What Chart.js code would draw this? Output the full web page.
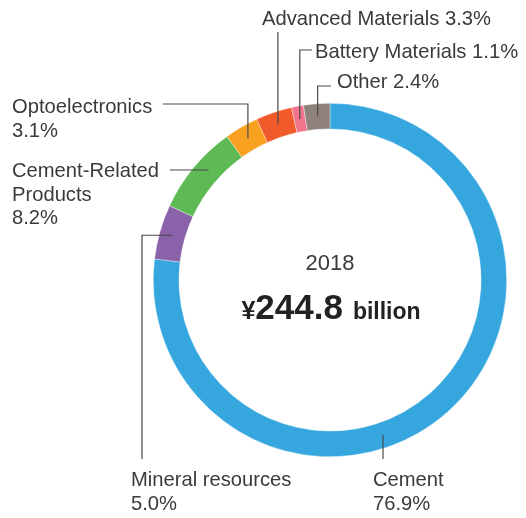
<!DOCTYPE html>
<html>
<head>
<meta charset="utf-8">
<script src="https://cdn.jsdelivr.net/npm/chart.js@4.4.1/dist/chart.umd.min.js"></script>
<style>
  html, body { margin: 0; padding: 0; background: #ffffff; }
  #wrap { width: 526px; height: 518px; position: relative; }
</style>
</head>
<body>
<div id="wrap"><canvas id="c" width="526" height="518"></canvas></div>
<script>
// ---- data ----
const categories = ['Cement', 'Mineral resources', 'Cement-Related Products', 'Optoelectronics', 'Advanced Materials', 'Battery Materials', 'Other'];
const shares = [76.9, 5.0, 8.2, 3.1, 3.3, 1.1, 2.4];
const centerYear = '2018';
const centerTotal = '244.8';
const centerUnit = 'billion';

// ---- styles ----
const colors = ['#35A6DE', '#8A62AA', '#5EBA55', '#F8A01F', '#F15A2B', '#F0758A', '#8F817C'];
const textColor = '#3a3a3a';
const lineColor = '#4a4a4a';
const labelFont = '20.2px "Liberation Sans", Arial, sans-serif';

// label layout: text lines, text position, leader route
const labelLayout = [
  { lines: [categories[0], shares[0].toFixed(1) + '%'], x: 373, y: 486, anchor: { ringX: 383 }, route: a => [[a.x, a.y], [a.x, 459]] },
  { lines: [categories[1], shares[1].toFixed(1) + '%'], x: 131, y: 486, anchor: 'mid', route: a => [[a.x, a.y], [142, a.y], [142, 459]] },
  { lines: ['Cement-Related', 'Products', shares[2].toFixed(1) + '%'], x: 12, y: 177, anchor: { ringY: 170, side: -1 }, route: a => [[170, a.y], [a.x, a.y]] },
  { lines: [categories[3], shares[3].toFixed(1) + '%'], x: 12, y: 113, anchor: 'mid', route: a => [[163, 104], [a.x, 104], [a.x, a.y]] },
  { lines: [categories[4] + ' ' + shares[4].toFixed(1) + '%'], x: 262, y: 25, anchor: 'mid', route: a => [[a.x, 32], [a.x, a.y]] },
  { lines: [categories[5] + ' ' + shares[5].toFixed(1) + '%'], x: 315, y: 58, anchor: 'mid', route: a => [[312, 50], [a.x, 50], [a.x, a.y]] },
  { lines: [categories[6] + ' ' + shares[6].toFixed(1) + '%'], x: 337, y: 88, anchor: 'mid', route: a => [[331, 86], [a.x, 86], [a.x, a.y]] }
];

const labelPlugin = {
  id: 'labels',
  afterDraw(chart) {
    const ctx = chart.ctx;
    const meta = chart.getDatasetMeta(0);
    const arcs = meta.data;
    const cx = arcs[0].x, cy = arcs[0].y;
    const rMid = (arcs[0].innerRadius + arcs[0].outerRadius) / 2;
    ctx.save();
    // leaders
    ctx.strokeStyle = lineColor;
    ctx.lineWidth = 1.2;
    labelLayout.forEach((L, i) => {
      let a;
      if (L.anchor === 'mid') {
        const arc = arcs[i];
        const ang = (arc.startAngle + arc.endAngle) / 2;
        a = { x: cx + rMid * Math.cos(ang), y: cy + rMid * Math.sin(ang) };
      } else if (L.anchor.ringX !== undefined) {
        const dx = L.anchor.ringX - cx;
        a = { x: L.anchor.ringX, y: cy + Math.sqrt(rMid * rMid - dx * dx) };
      } else {
        const dy = L.anchor.ringY - cy;
        a = { x: cx + L.anchor.side * Math.sqrt(rMid * rMid - dy * dy), y: L.anchor.ringY };
      }
      const pts = L.route(a);
      ctx.beginPath();
      pts.forEach((p, k) => k ? ctx.lineTo(p[0], p[1]) : ctx.moveTo(p[0], p[1]));
      ctx.stroke();
    });
    // texts
    ctx.fillStyle = textColor;
    ctx.font = labelFont;
    ctx.textAlign = 'left';
    ctx.textBaseline = 'alphabetic';
    labelLayout.forEach(L => {
      L.lines.forEach((t, k) => ctx.fillText(t, L.x, L.y + k * 23.5));
    });
    // center
    ctx.textAlign = 'center';
    ctx.font = '22px "Liberation Sans", Arial, sans-serif';
    ctx.fillText(centerYear, cx, 270);
    const yen = '\u00A5';
    ctx.fillStyle = '#222222';
    ctx.font = 'bold 35px "Liberation Sans", Arial, sans-serif';
    const wNum = ctx.measureText(centerTotal).width;
    ctx.font = 'bold 25px "Liberation Sans", Arial, sans-serif';
    const wYen = ctx.measureText(yen).width;
    ctx.font = 'bold 23px "Liberation Sans", Arial, sans-serif';
    const wUnit = ctx.measureText(centerUnit).width;
    const gap = 10;
    const total = wYen + wNum + gap + wUnit;
    let x0 = cx - total / 2 + 1;
    ctx.textAlign = 'left';
    ctx.font = 'bold 25px "Liberation Sans", Arial, sans-serif';
    ctx.fillText(yen, x0, 319);
    ctx.font = 'bold 35px "Liberation Sans", Arial, sans-serif';
    ctx.fillText(centerTotal, x0 + wYen, 319);
    ctx.font = 'bold 23px "Liberation Sans", Arial, sans-serif';
    ctx.fillText(centerUnit, x0 + wYen + wNum + gap, 319);
    ctx.restore();
  }
};

new Chart(document.getElementById('c'), {
  type: 'doughnut',
  data: {
    labels: categories,
    datasets: [{
      data: shares,
      backgroundColor: colors,
      borderColor: 'rgba(255,255,255,0.6)',
      borderWidth: 0.6,
      hoverOffset: 0
    }]
  },
  options: {
    responsive: false,
    devicePixelRatio: 1,
    animation: false,
    cutout: '85.5%',
    rotation: 0,
    layout: { padding: { left: 153, right: 19, top: 103, bottom: 61 } },
    plugins: { legend: { display: false }, tooltip: { enabled: false } }
  },
  plugins: [labelPlugin]
});
</script>
</body>
</html>
